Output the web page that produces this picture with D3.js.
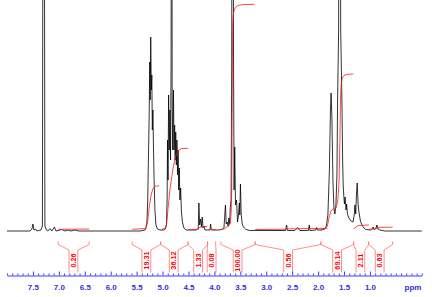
<!DOCTYPE html>
<html><head><meta charset="utf-8">
<script src="https://cdn.jsdelivr.net/npm/d3@7"></script>
<style>
html,body{margin:0;padding:0;background:#fff;}
svg{display:block;}
</style></head>
<body>
<svg id="chart" width="432" height="297"></svg>
<script>
// ---------- DATA ----------
// spectrum: [ppm, intensity]
const spectrum = [
 [8.000,0],[7.558,0],[7.519,2],[7.500,7],[7.481,1],[7.452,2],[7.423,0],[7.346,1],[7.317,5],[7.294,800],[7.269,5],[7.240,1],
 [7.211,0],[7.172,2.5],[7.134,0],[7.085,4],[7.056,0],[6.941,1.5],[6.883,0],[6.825,1],[6.767,0],[6.690,1],[6.613,0],
 [5.436,0],[5.340,1],[5.321,3],[5.301,9],[5.286,31],[5.273,71],[5.259,111],[5.247,169],[5.238,131],[5.228,194],[5.217,141],
 [5.207,156],[5.197,101],[5.186,121],[5.174,81],[5.163,51],[5.147,21],[5.128,6],[5.099,2],[5.051,1],[4.974,1],
 [4.945,2],[4.925,6],[4.912,31],[4.904,91],[4.894,51],[4.883,136],[4.871,81],[4.858,121],[4.846,71],[4.835,171],[4.825,800],
 [4.815,131],[4.804,81],[4.790,141],[4.779,81],[4.767,106],[4.756,71],[4.746,99],[4.734,66],[4.723,91],[4.711,56],[4.700,81],
 [4.688,41],[4.677,63],[4.665,31],[4.651,43],[4.636,19],[4.617,9],[4.588,3],[4.549,1],[4.356,1],
 [4.312,2],[4.299,28],[4.285,6],[4.266,12],[4.250,4],[4.235,14],[4.219,3],[4.202,5],[4.183,1],[4.086,1],[4.073,7],[4.059,1],
 [3.932,1],[3.855,1.5],[3.816,3],[3.787,26],[3.772,7],[3.753,9],[3.735,5],[3.720,13],[3.706,7],[3.693,24],[3.678,31],
 [3.666,171],[3.649,800],[3.631,171],[3.620,41],[3.608,84],[3.593,26],[3.573,31],[3.554,9],[3.535,16],[3.519,28],[3.510,16],
 [3.498,47],[3.483,16],[3.463,7],[3.440,4],[3.392,1.5],[3.315,0.5],
 [2.630,0.5],[2.607,6],[2.592,0.5],[2.447,0.5],[2.395,3.5],[2.351,0.5],[2.185,0.5],[2.171,6],[2.158,0.5],[2.042,1],[2.029,3.5],[2.013,1],
 [1.926,1],[1.868,2],[1.840,5],[1.811,16],[1.782,61],[1.762,121],[1.749,138],[1.733,111],[1.714,51],[1.695,23],[1.676,17],
 [1.656,26],[1.637,56],[1.624,131],[1.604,201],[1.583,800],[1.564,201],[1.541,131],[1.527,71],[1.516,46],[1.504,35],[1.492,27],
 [1.479,34],[1.463,21],[1.450,27],[1.434,17],[1.406,13],[1.367,10],[1.328,9],[1.303,16],[1.290,26],[1.274,17],[1.261,36],
 [1.245,48],[1.230,28],[1.218,21],[1.203,16],[1.184,10],[1.155,6],[1.116,3],[1.078,1.5],[0.981,1],[0.952,2.5],[0.937,4],
 [0.923,1.5],[0.885,2.5],[0.866,6],[0.846,2],[0.808,1],[0.711,0],[0.000,0]
];

// integral curves: [ppm, cumulative height]
const int026 = [[7.012,1.7],[6.690,1.8],[6.414,2]];
const int1931 = [[5.585,1.7],[5.321,2.5],[5.288,9],[5.257,24],[5.230,33],[5.205,39],[5.180,43],[5.147,44.7],[5.109,45],[5.064,45]];
const int3612 = [[5.018,1.7],[4.954,2.5],[4.921,7],[4.891,24],[4.858,41],[4.825,53],[4.794,64],[4.767,70],[4.742,75.5],[4.698,80.3],[4.632,82.5],[4.505,82.7]];
const int133 = [[4.505,1.5],[4.308,1.7],[4.293,3.5],[4.231,4.4],[4.138,4.6]];
const int008 = [[4.119,1.5],[3.971,1.7]];
const int100 = [[3.874,1.5],[3.816,2],[3.778,3.5],[3.720,5],[3.691,9],[3.676,19],[3.666,41],[3.658,111],[3.652,171],[3.647,206],
 [3.637,216],[3.618,221],[3.585,224],[3.546,225.5],[3.469,226.3],[3.354,226.6],[3.228,226.7]];
const int056 = [[3.213,1.5],[2.640,1.7],[2.582,2.2],[2.177,2.5],[1.820,2.7]];
const int6914 = [[1.946,1.7],[1.868,2.5],[1.820,5],[1.786,14],[1.753,20],[1.714,21.7],[1.656,22.7],[1.618,31],[1.595,51],
 [1.579,91],[1.568,131],[1.556,146],[1.535,153],[1.502,155.5],[1.444,156.7],[1.319,157]];
const int211 = [[1.315,2],[1.290,3],[1.251,4.7],[1.213,5.5],[1.020,6]];
const int063 = [[1.026,1.7],[0.904,2],[0.866,3],[0.808,3.7],[0.563,3.8]];

// integral regions and labels
const integralValues = ["0.26","19.31","36.12","1.33","0.08","100.00","0.56","69.14","2.11","0.63"];
const integralFrom   = [7.012, 5.585, 5.037, 4.505, 4.131, 3.874, 3.213, 1.946, 1.315, 1.026];
const integralTo     = [6.414, 5.037, 4.505, 4.131, 3.976, 3.213, 1.946, 1.315, 1.026, 0.563];
const integralLabelAt= [6.719, 5.313, 4.785, 4.314, 4.054, 3.552, 2.578, 1.633, 1.184, 0.812];

// axis ticks
const majorTicks = [7.5,7.0,6.5,6.0,5.5,5.0,4.5,4.0,3.5,3.0,2.5,2.0,1.5,1.0];
const minorTicks = d3.range(0,81).map(i => +(i/10).toFixed(1)).filter(v => !majorTicks.includes(v));
const axisUnit = "ppm";

// ---------- DRAWING ----------
const svg = d3.select("#chart");
const x = d3.scaleLinear().domain([8.0, 0.0]).range([7, 421.8]);
const y = d3.scaleLinear().domain([0, 231]).range([231, 0]);

svg.append("defs").append("clipPath").attr("id","plotclip")
  .append("rect").attr("x",0).attr("y",0).attr("width",432).attr("height",240);

const plot = svg.append("g").attr("clip-path","url(#plotclip)");

const line = d3.line().x(d => x(d[0])).y(d => y(d[1]));

plot.append("path").datum(spectrum)
  .attr("d", line).attr("fill","none")
  .attr("stroke","#000").attr("stroke-width",0.8).attr("stroke-linejoin","round");

const curves = [int026,int1931,int3612,int133,int008,int100,int056,int6914,int211,int063];
plot.selectAll("path.integral").data(curves).enter().append("path")
  .attr("class","integral").attr("d", line).attr("fill","none")
  .attr("stroke","#ff1a1a").attr("stroke-width",0.8);

// integral brackets + labels
const yTop = 241.5, yCorner = 244.5, yBox = 250, yBottom = 272.5, half = 4.4;
const br = svg.append("g");
integralValues.forEach((v,i) => {
  const x1 = x(integralFrom[i]), x2 = x(integralTo[i]), xc = x(integralLabelAt[i]);
  const p = `M${x1},${yTop}L${x1},${yCorner}L${xc-half},${yBox}L${xc-half},${yBottom}` +
            `M${x2},${yTop}L${x2},${yCorner}L${xc+half},${yBox}L${xc+half},${yBottom}`;
  br.append("path").attr("d",p).attr("fill","none").attr("stroke","#ff7070").attr("stroke-width",0.8);
  br.append("text").text(v)
    .attr("transform",`translate(${xc+0.3},260.5) rotate(-90)`)
    .attr("text-anchor","middle").attr("dominant-baseline","central")
    .attr("font-family","Liberation Sans, Arial, sans-serif").attr("font-weight","bold")
    .attr("font-size",7.3).attr("fill","#ff0000");
});

// axis
const axisY = 275.5;
const axG = svg.append("g").attr("transform",`translate(0,${axisY})`);
axG.call(d3.axisBottom(x).tickValues(majorTicks).tickFormat(d3.format(".1f"))
  .tickSizeInner(-4).tickSizeOuter(0).tickPadding(9));
const minG = svg.append("g").attr("transform",`translate(0,${axisY})`);
minG.call(d3.axisBottom(x).tickValues(minorTicks).tickFormat("").tickSizeInner(-2).tickSizeOuter(0));
minG.select(".domain").remove();
svg.selectAll(".domain, .tick line").attr("stroke","#3a3aff");
axG.selectAll(".tick text").attr("fill","#3030d8")
  .attr("font-family","Liberation Sans, Arial, sans-serif").attr("font-weight","bold").attr("font-size",8);
svg.append("text").text(axisUnit).attr("x",413).attr("y",axisY+9).attr("dy","0.71em")
  .attr("text-anchor","middle").attr("fill","#3030d8")
  .attr("font-family","Liberation Sans, Arial, sans-serif").attr("font-weight","bold").attr("font-size",8);
</script>
</body></html>
